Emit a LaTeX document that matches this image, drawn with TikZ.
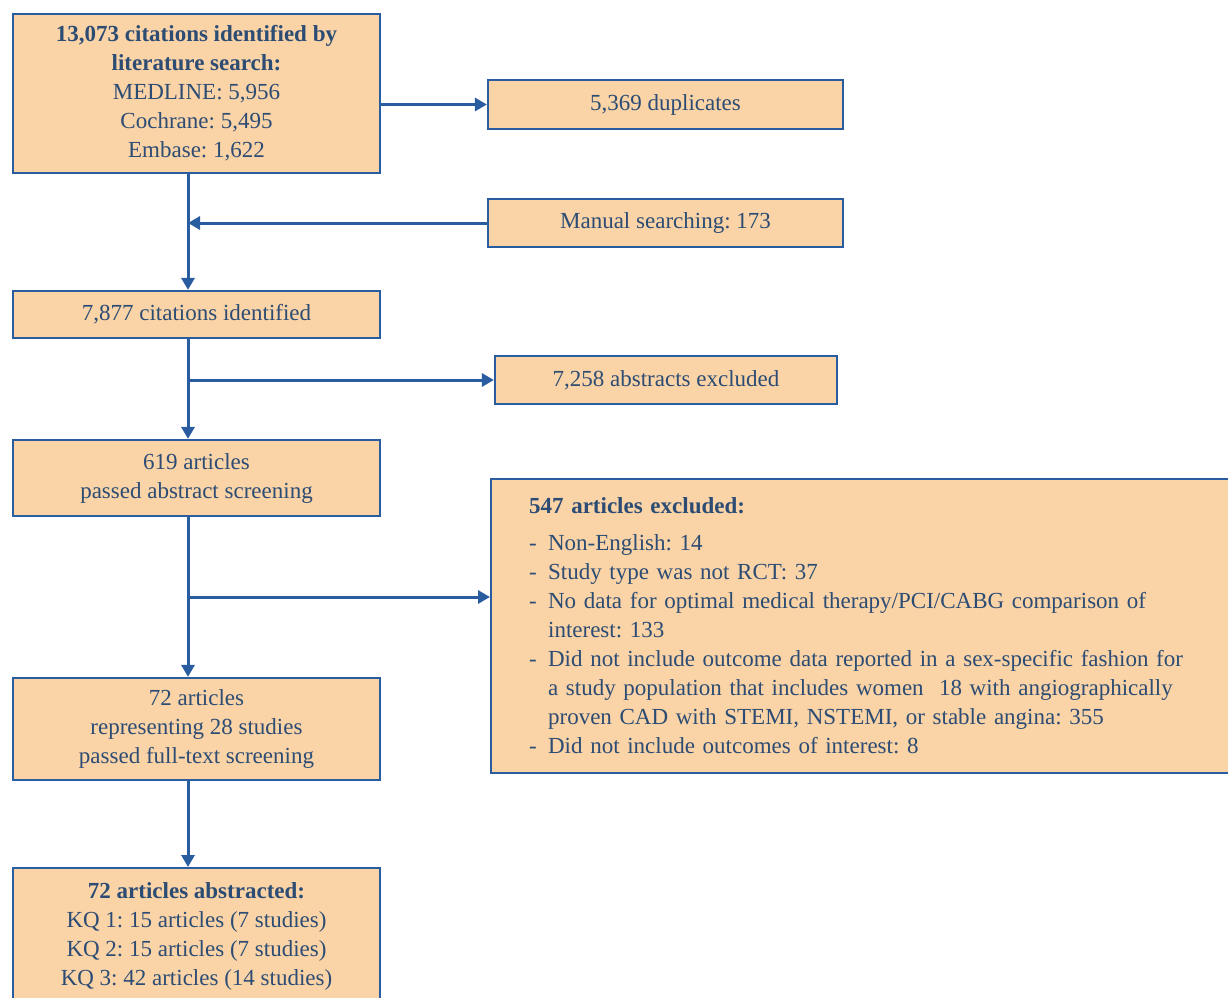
\documentclass[tikz,border=0pt]{standalone}
\usepackage{fontspec}
\setmainfont{LiberationSerif}[Extension=.ttf, UprightFont=*-Regular, BoldFont=*-Bold, ItalicFont=*-Italic, BoldItalicFont=*-BoldItalic]
\usepackage{tikz}
\usetikzlibrary{arrows.meta}
\usetikzlibrary{calc}
\definecolor{boxfill}{RGB}{250,211,166}
\definecolor{boxline}{RGB}{42,92,160}
\definecolor{boxtext}{RGB}{44,76,116}
\tikzset{b/.style={draw=boxline, fill=boxfill, line width=2.2pt, text=boxtext, align=center, inner sep=0pt,
  font=\fontsize{23}{29}\selectfont}}
\tikzset{a/.style={draw=boxline, line width=3pt, -{Triangle[length=12pt,width=13pt]}}}
\newcommand{\xitem}{\makebox[19pt][l]{-}}
\newcommand{\xcont}{\hspace*{19pt}}
\frenchspacing

\begin{document}
\begin{tikzpicture}[x=1pt,y=-1pt]
        \useasboundingbox (0,0) rectangle (1228,997);
        \coordinate (spine) at (188,0);
        \node [b, minimum width=367, minimum height=159] (search) at (196.5,93.5)
          {\textbf{13,073 citations identified by}\\ \textbf{literature search:}\\ MEDLINE: 5,956\\ Cochrane: 5,495\\ Embase: 1,622};
        \node [b, minimum width=355, minimum height=49] (dup) at (665.5,104.5) {5,369 duplicates};
        \node [b, minimum width=355, minimum height=48] (manual) at (665.5,223) {Manual searching: 173};
        \node [b, minimum width=367, minimum height=47] (ident) at (196.5,314.5) {7,877 citations identified};
        \node [b, minimum width=342, minimum height=48] (absex) at (666,380) {7,258 abstracts excluded};
        \node [b, minimum width=367, minimum height=76] (passabs) at (196.5,478) {619 articles\\ passed abstract screening};
        \node [b, minimum width=740, minimum height=294, text width=702, align=left, inner xsep=38pt,
          anchor=north west] (artex) at (490,478)
          {\textbf{547 articles excluded:}\\[8pt]
           \xitem Non-English: 14\\
           \xitem Study type was not RCT: 37\\
           \xitem No data for optimal medical therapy/PCI/CABG comparison of\\
           \xcont interest: 133\\
           \xitem Did not include outcome data reported in a sex-specific fashion for\\
           \xcont a study population that includes women \ 18 with angiographically\\
           \xcont proven CAD with STEMI, NSTEMI, or stable angina: 355\\
           \xitem Did not include outcomes of interest: 8};
        \node [b, minimum width=367, minimum height=102] (fulltext) at (196.5,729)
          {72 articles\\ representing 28 studies\\ passed full-text screening};
        \node [b, minimum width=367, minimum height=136, anchor=north] (abstracted) at (196.5,867)
          {\textbf{72 articles abstracted:}\\ KQ 1: 15 articles (7 studies)\\ KQ 2: 15 articles (7 studies)\\ KQ 3: 42 articles (14 studies)};
        \coordinate (fork) at (188,597);
        % main column
        \draw [a] (search.south -| spine) -- (ident.north -| spine);
        \draw [a] (ident.south -| spine) -- (passabs.north -| spine);
        \draw [a] (passabs.south -| spine) -- (fulltext.north -| spine);
        \draw [a] (fulltext.south -| spine) -- (abstracted.north -| spine);
        % side branches
        \draw [a] (dup.west -| search.east) -- (dup.west);
        \draw [a] (manual.west) -- (manual.west -| spine);
        \draw [a] (absex.west -| spine) -- (absex.west);
        \draw [a] (fork) -- (fork -| artex.west);
\end{tikzpicture}
\end{document}
